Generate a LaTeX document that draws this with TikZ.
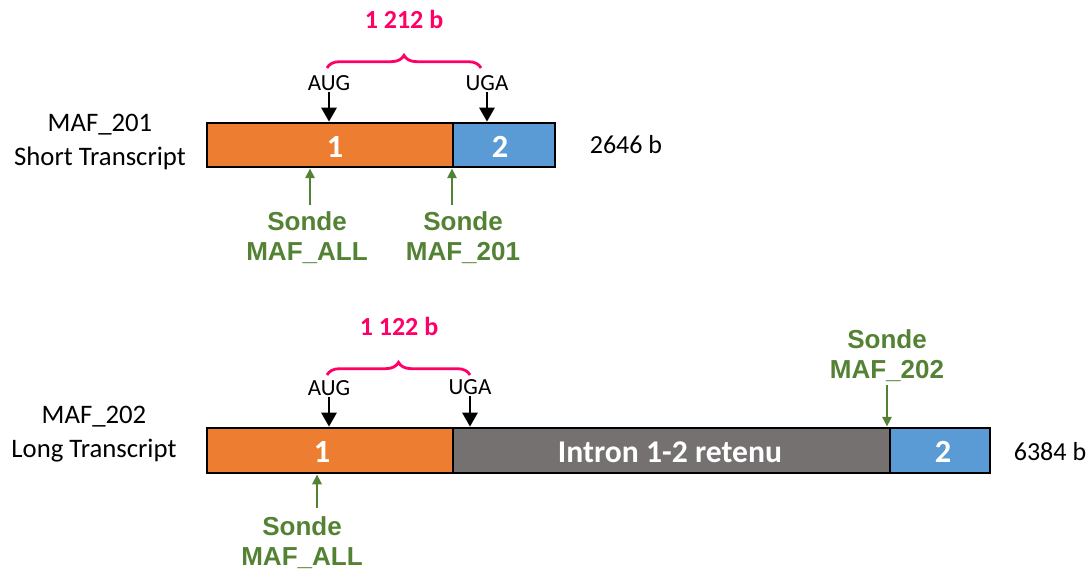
\documentclass[tikz,border=0pt]{standalone}
\usepackage{fontspec}
\setmainfont{Carlito}
\newfontfamily\probefont{Liberation Sans}
\usetikzlibrary{arrows.meta,decorations.pathreplacing,fit}

\definecolor{exorange}{HTML}{ED7D31}
\definecolor{exblue}{HTML}{5B9BD5}
\definecolor{intgrey}{HTML}{767171}
\definecolor{probegreen}{HTML}{548235}
\definecolor{bracepink}{HTML}{FF0066}

\tikzset{
 exon/.style={draw=black,line width=2pt,inner sep=0pt},
 exnum/.style={text=white,font=\bfseries\fontsize{23}{26}\selectfont},
 codontxt/.style={inner sep=1pt,font=\fontsize{16.4}{19}\selectfont},
 codon/.style={-{Triangle[width=11pt,length=10pt]},line width=1.4pt},
 probetxt/.style={text=probegreen,align=center,inner sep=2pt,
  font=\probefont\bfseries\fontsize{18.5}{21.5}\selectfont},
 probe/.style={-{Triangle[width=6.5pt,length=7pt]},line width=2pt,draw=probegreen},
 orfbrace/.style={draw=bracepink,line width=2pt,
  decorate,decoration={brace,amplitude=9pt,aspect=0.5}},
 orftxt/.style={text=bracepink,font=\bfseries\fontsize{18.5}{22}\selectfont},
 trname/.style={align=center,font=\fontsize{19}{24}\selectfont},
 trlen/.style={font=\fontsize{18.5}{22}\selectfont}
}

\begin{document}
\begin{tikzpicture}[x=0.025cm,y=-0.025cm]
 \useasboundingbox (0,0) rectangle (1092,571);

 % MAF_201, short transcript
 \node[trname] (tr201) at (100,142) {MAF\_201\\Short Transcript};
 \node[exon,fill=exorange,fit={(207,123) (453,167)}] (ex201a) {};
 \node[exon,fill=exblue,fit={(453,123) (555,167)}] (ex201b) {};
 \node[exnum] (n201a) at (335,147) {1};
 \node[exnum] (n201b) at (500,147) {2};
 \node[trlen] (len201) at (626,145) {2646 b};

 \node[codontxt] (aug201) at (329,83) {AUG};
 \node[codontxt] (uga201) at (487,83) {UGA};
 \draw[codon] (aug201.south) -- (aug201.south |- ex201a.north);
 \draw[codon] (uga201.south) -- (uga201.south |- ex201b.north);

 \coordinate (orf201s) at (327,68);
 \coordinate (orf201e) at (481,68);
 \draw[orfbrace] (orf201s) -- (orf201e);
 \node[orftxt] (orf201) at (404,19) {1 212 b};

 \node[probetxt] (pall201) at (307,238) {Sonde\\MAF\_ALL};
 \node[probetxt] (p201) at (463,238) {Sonde\\MAF\_201};
 \coordinate (pall201t) at (310,205);
 \coordinate (p201t) at (452,205);
 \draw[probe] (pall201t) -- (pall201t |- ex201a.south);
 \draw[probe] (p201t) -- (p201t |- ex201a.south);

 % MAF_202, long transcript
 \node[trname] (tr202) at (94,434) {MAF\_202\\Long Transcript};
 \node[exon,fill=exorange,fit={(207,428) (453,473)}] (ex202a) {};
 \node[exon,fill=intgrey,fit={(453,428) (890,473)}] (int202) {};
 \node[exon,fill=exblue,fit={(890,428) (990,473)}] (ex202b) {};
 \node[exnum] (n202a) at (322,452) {1};
 \node[text=white,font=\bfseries\fontsize{22.5}{26}\selectfont]
  (intxt) at (670,452) {Intron 1-2 retenu};
 \node[exnum] (n202b) at (943,452) {2};
 \node[trlen] (len202) at (1050,452) {6384 b};

 \node[codontxt] (aug202) at (329,388) {AUG};
 \node[codontxt] (uga202) at (470,387) {UGA};
 \draw[codon] (aug202.south) -- (aug202.south |- ex202a.north);
 \draw[codon] (uga202.south) -- (uga202.south |- int202.north);

 \coordinate (orf202s) at (327,375);
 \coordinate (orf202e) at (470,375);
 \draw[orfbrace] (orf202s) -- (orf202e);
 \node[orftxt] (orf202) at (399,326) {1 122 b};

 \node[probetxt] (p202) at (887,356) {Sonde\\MAF\_202};
 \draw[probe] (p202.south) -- (p202.south |- ex202b.north);

 \node[probetxt] (pall202) at (302,543) {Sonde\\MAF\_ALL};
 \coordinate (pall202t) at (317,508);
 \draw[probe] (pall202t) -- (pall202t |- ex202a.south);
\end{tikzpicture}
\end{document}
